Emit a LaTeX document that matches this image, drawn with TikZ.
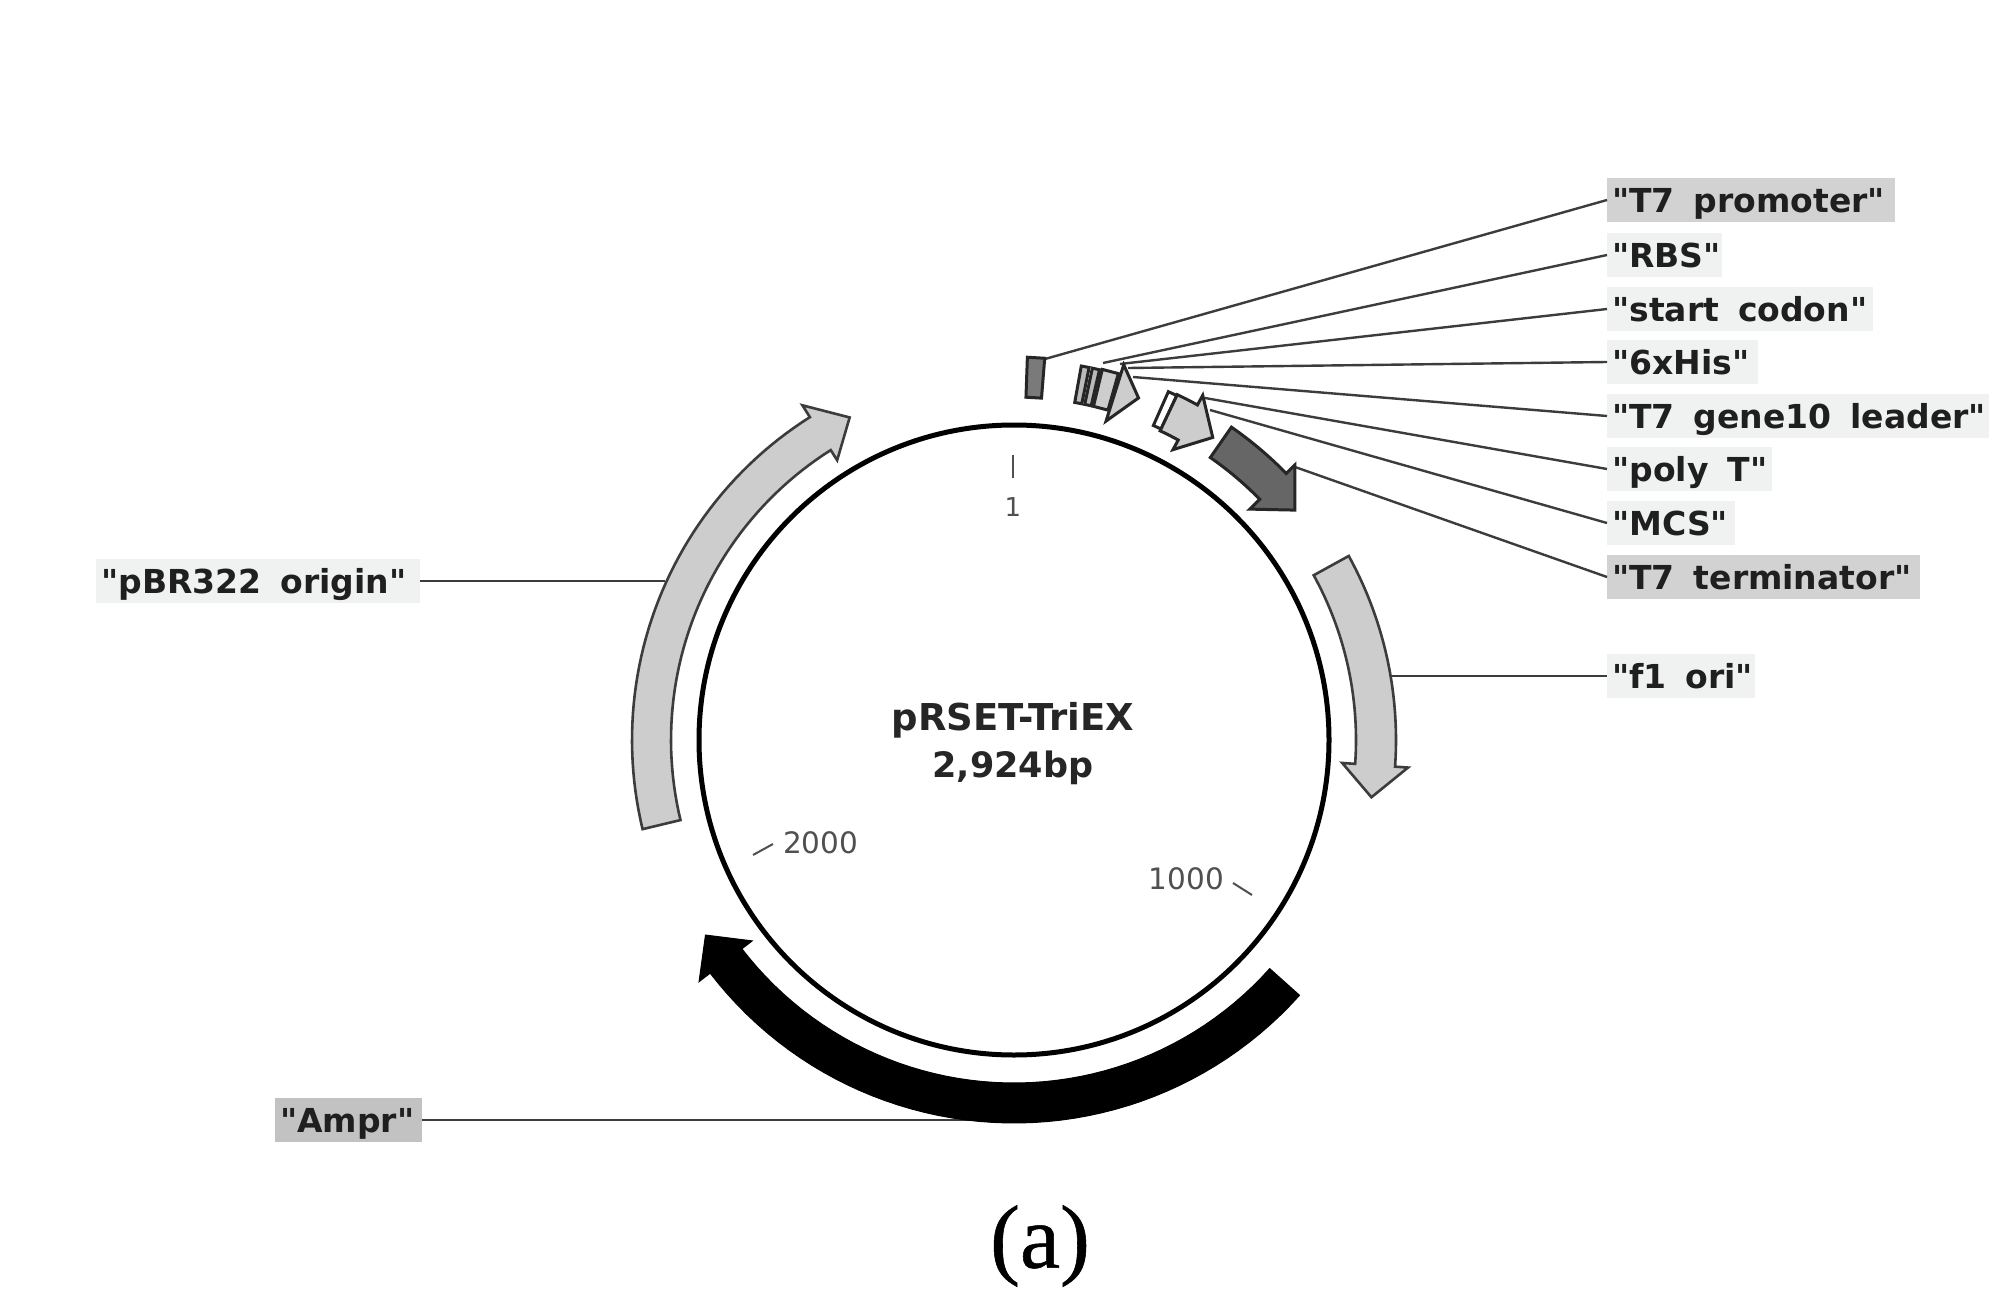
\documentclass[tikz,border=0pt]{standalone}
\usepackage{fontspec}
\setmainfont{DejaVu Sans}
\newfontfamily\labfont{DejaVu Sans}
\newfontfamily\capfont[FakeBold=0.6]{Liberation Serif}
\newcommand{\CX}{1014}
\newcommand{\CY}{740}
\newcommand{\widewords}{\spaceskip 19pt\relax}
% clockwise-from-top polar coordinate: \pol{r}{angle}
\newcommand{\pol}[2]{({\CX+(#1)*sin(#2)},{\CY-(#1)*cos(#2)})}
% \bandarrow{style}{ri}{ro}{a0}{a1}{barb ri}{barb ro}{tip r}{tip a}
\newcommand{\bandarrow}[9]{%
  \draw[#1] plot[domain=#4:#5,samples=50] ({\CX+(#3)*sin(\x)},{\CY-(#3)*cos(\x)})
    -- \pol{#7}{#5} -- \pol{#8}{#9} -- \pol{#6}{#5}
    -- plot[domain=#5:#4,samples=50] ({\CX+(#2)*sin(\x)},{\CY-(#2)*cos(\x)}) -- cycle;}
% \bandrect{style}{ri}{ro}{a0}{a1}
\newcommand{\bandrect}[5]{%
  \draw[#1] \pol{#3}{#4} -- \pol{#3}{#5} -- \pol{#2}{#5} -- \pol{#2}{#4} -- cycle;}
\definecolor{featlight}{HTML}{CDCDCD}
\definecolor{featdark}{HTML}{666666}
\definecolor{featmid}{HTML}{7A7A7A}
\definecolor{featstripe}{HTML}{BBBBBB}
\definecolor{lablight}{HTML}{F0F1F1}
\definecolor{labdark}{HTML}{D2D2D2}
\definecolor{labamp}{HTML}{C2C2C2}
\definecolor{edge}{HTML}{3C3C3C}
\definecolor{tickgray}{HTML}{505050}
\tikzset{
  x=1pt,y=-1pt,
  feature/.style={draw=edge,line width=2.6pt,line join=miter,fill=#1},
  smallfeature/.style={draw=black!85,line width=3pt,line join=miter,fill=#1},
  solidblack/.style={draw=black,line width=1pt,fill=black,line join=miter},
  lab/.style={anchor=west,inner xsep=5pt,inner ysep=0pt,minimum height=44pt,
    text height=29pt,text depth=4pt,align=left,
    font=\labfont\fontsize{33}{36}\selectfont\bfseries,text=black!88,
    execute at begin node=\widewords},
  leader/.style={draw=edge,line width=2.4pt},
  tickline/.style={draw=tickgray,line width=2pt},
  ticktext/.style={font=\fontsize{29.5}{32}\selectfont,text=tickgray,inner sep=0pt},
  onetext/.style={font=\fontsize{26}{28}\selectfont,text=tickgray,inner sep=0pt},
  centertext/.style={font=\fontsize{37}{42}\selectfont\bfseries,text=black!85,align=center,inner sep=0pt},
  sizetext/.style={font=\fontsize{35}{42}\selectfont\bfseries,text=black!85,align=center,inner sep=0pt},
}
\begin{document}
\begin{tikzpicture}
\useasboundingbox (0,0) rectangle (2000,1297);
\fill[white] (0,0) rectangle (2000,1297);

% labels
\node[lab,fill=labdark,text width=278pt] (lp) at (1607,200) {\mbox{"T7 promoter"}};
\node[lab,fill=lablight,text width=105pt] (lr) at (1607,255) {\mbox{"RBS"}};
\node[lab,fill=lablight,text width=256pt] (ls) at (1607,309) {\mbox{"start codon"}};
\node[lab,fill=lablight,text width=141pt] (lh) at (1607,362) {\mbox{"6xHis"}};
\node[lab,fill=lablight,text width=372pt] (lg) at (1607,416) {\mbox{"T7 gene10 leader"}};
\node[lab,fill=lablight,text width=155pt] (lt) at (1607,469) {\mbox{"poly T"}};
\node[lab,fill=lablight,text width=118pt] (lm) at (1607,523) {\mbox{"MCS"}};
\node[lab,fill=labdark,text width=303pt] (le) at (1607,577) {\mbox{"T7 terminator"}};
\node[lab,fill=lablight,text width=138pt] (lf) at (1607,676) {\mbox{"f1 ori"}};
\node[lab,fill=lablight,text width=314pt] (lo) at (96,581) {\mbox{"pBR322 origin"}};
\node[lab,fill=labamp,text width=137pt] (la) at (275,1120) {\mbox{"Ampr"}};

% connector ends on the features
\coordinate (ap) at (1045,359);
\coordinate (ar) at (1103,363);
\coordinate (as) at (1120,364);
\coordinate (ah) at (1128,368);
\coordinate (ag) at (1133,377);
\coordinate (at) at (1205,398);
\coordinate (am) at (1210,410);
\coordinate (ae) at (1295,467);
\coordinate (af) at (1392,676);
\coordinate (ao) at (665,581);
\coordinate (aa) at (985,1120);

\draw[leader] (lp.west) -- (ap);
\draw[leader] (lr.west) -- (ar);
\draw[leader] (ls.west) -- (as);
\draw[leader] (lh.west) -- (ah);
\draw[leader] (lg.west) -- (ag);
\draw[leader] (lt.west) -- (at);
\draw[leader] (lm.west) -- (am);
\draw[leader] (le.west) -- (ae);
\draw[leader] (lf.west) -- (af);
\draw[leader] (lo.east) -- (ao);
\draw[leader] (la.east) -- (aa);

% backbone
\node[draw=black,line width=5pt,circle,minimum size=630pt,inner sep=0pt] (ring) at (\CX,\CY) {};

% large features
\bandarrow{feature=featlight}{343}{382}{256.5}{327.7}{331}{396}{362}{333}
\bandarrow{feature=featlight}{342}{382}{61.2}{94}{329}{395}{362}{99.1}
\bandarrow{solidblack}{343}{383}{131.8}{232.5}{330}{397}{365}{237.7}

% small features
\bandrect{smallfeature=featmid}{343}{383}{2}{4.6}
\bandrect{smallfeature=featstripe}{343}{380}{10.2}{11.4}
\bandrect{smallfeature=featstripe}{343}{380}{11.9}{13}
\bandrect{smallfeature=featlight}{343}{381}{13.4}{15.9}
\draw[smallfeature=featlight] \pol{391}{16.3} -- \pol{364}{20} -- \pol{332}{16.1} -- cycle;
\bandrect{smallfeature=white}{344}{381}{23.9}{25.3}
\bandarrow{smallfeature=featlight}{342}{382}{25.3}{28.7}{331}{393}{362}{33.3}
\bandarrow{smallfeature=featdark}{344}{381}{34.8}{45.6}{330}{393}{363}{50.7}

% ticks
\coordinate (t1a) at (1013,455);
\coordinate (t1b) at (1013,478);
\coordinate (t2a) at (753,855);
\coordinate (t2b) at (773,844);
\coordinate (t3a) at (1233,883);
\coordinate (t3b) at (1252,895);
\draw[tickline] (t1a) -- (t1b);
\draw[tickline] (t2a) -- (t2b);
\draw[tickline] (t3a) -- (t3b);
\node[onetext] (n1) at (1013,507) {1};
\node[ticktext,anchor=west] (n2) at (783,843) {2000};
\node[ticktext,anchor=east] (n3) at (1224,879) {1000};

% centre
\node[centertext] (title) at (1013,720) {pRSET-TriEX};
\node[sizetext] (size) at (1013,768) {2,924bp};

% caption
\node[inner sep=0pt,font=\capfont\fontsize{90}{100}\selectfont] (cap) at (1040,1246) {(a)};
\end{tikzpicture}
\end{document}
